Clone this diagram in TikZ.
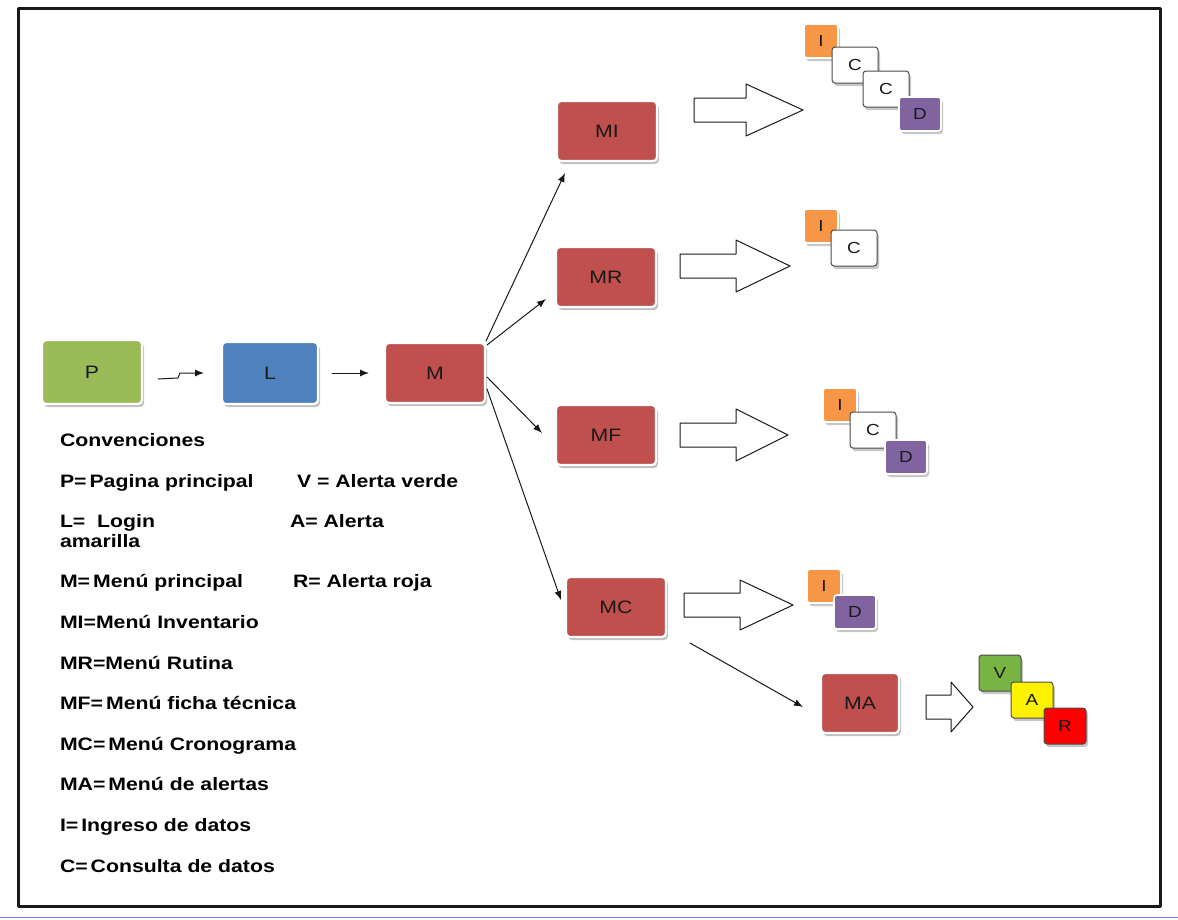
\documentclass[tikz,border=0pt]{standalone}
\usepackage{fontspec}
\setmainfont{Liberation Sans}[FakeStretch=1.18]
\usetikzlibrary{arrows.meta,shadows}
\definecolor{NavGreen}{HTML}{9BBB59}
\definecolor{NavBlue}{HTML}{4F81BD}
\definecolor{NavRed}{HTML}{C0504D}
\definecolor{NavOrange}{HTML}{F79646}
\definecolor{NavPurple}{HTML}{8064A2}
\definecolor{NavLime}{HTML}{77B443}
\definecolor{NavInk}{gray}{0.10}
\definecolor{NavEdge}{gray}{0.30}
\tikzset{
    nav/diagram/.style={
        x=1pt, y=-1pt,
        line cap=round,
        line join=round,
        every node/.style={inner sep=2pt, outer sep=0pt}
    },
    nav/box/.style={
        rounded corners=4pt, draw=white, line width=2.2pt,
        text=NavInk, font=\fontsize{18}{20}\selectfont,
        drop shadow={shadow xshift=2pt, shadow yshift=-3pt,
                     opacity=0.25, fill=black}
    },
    nav/menu/.style={nav/box, fill=NavRed,
        minimum width=100pt, minimum height=60pt},
    nav/tile/.style={
        rounded corners=3pt, draw=white, line width=1.6pt,
        text=NavInk, font=\fontsize{16}{18}\selectfont,
        minimum width=#1, minimum height=34pt,
        drop shadow={shadow xshift=2pt, shadow yshift=-3pt,
                     opacity=0.22, fill=black}
    },
    nav/tile/.default=36pt,
    nav/blank/.style={nav/tile=46pt, fill=white, draw=NavEdge,
        line width=1pt, minimum height=36pt},
    nav/alert/.style={nav/tile=42pt, draw=NavEdge, line width=1pt,
        minimum height=36pt},
    nav/link/.style={
        draw=NavInk, line width=1pt,
        -{Latex[length=9pt, width=7pt]}
    },
    nav/block/.style={draw=NavInk, fill=white, line width=1pt},
    nav/legend/.style={anchor=base west, inner sep=0pt,
        font=\bfseries\fontsize{18}{20}\selectfont, text=black}
}
\newcommand\navblock[6]{%
    \draw[nav/block] (#1,#4-#5) -- (#3,#4-#5) -- (#3,#4-#6) -- (#2,#4)
        -- (#3,#4+#6) -- (#3,#4+#5) -- (#1,#4+#5) -- cycle;}

\begin{document}
\begin{tikzpicture}[nav/diagram]
    \useasboundingbox (0,0) rectangle (1178,919);
    \fill[white] (0,0) rectangle (1178,919);
    \draw[line width=3pt, draw=NavInk] (18,8) rectangle (1160,906);
    \draw[line width=1pt, draw=blue!55] (0,917) -- (1178,917);

    \node[nav/box, fill=NavGreen, minimum width=100pt, minimum height=64pt]
        (P) at (92,372) {P};
    \node[nav/box, fill=NavBlue, minimum width=96pt, minimum height=62pt]
        (L) at (270,373) {L};
    \node[nav/menu] (M) at (435,373) {M};

    \node[nav/menu] (MI) at (607,131) {MI};
    \node[nav/menu] (MR) at (606,277) {MR};
    \node[nav/menu] (MF) at (606,435) {MF};
    \node[nav/menu] (MC) at (616,607) {MC};
    \node[nav/menu, minimum width=78pt, minimum height=60pt]
        (MA) at (860,703) {MA};

    \draw[nav/link] ([shift={(16,7)}]P.east) -- ++(20,-1) -- ++(2,-5)
        -- ([xshift=-18pt]L.west);
    \draw[nav/link] ([xshift=14pt]L.east) -- ([xshift=-16pt]M.west);
    \draw[nav/link] ([shift={(1,-2)}]M.north east)
        -- ([shift={(8,12)}]MI.south west);
    \draw[nav/link] ([shift={(2,2)}]M.north east)
        -- ([shift={(-10,-8)}]MR.south west);
    \draw[nav/link] ([shift={(2,4)}]M.east) -- ([shift={(-14,-2)}]MF.west);
    \draw[nav/link] ([shift={(2,-14)}]M.south east)
        -- ([shift={(-5,-7)}]MC.west);
    \draw[nav/link] ([shift={(24,6)}]MC.south east)
        -- ([shift={(-18,4)}]MA.west);

    \navblock{694}{803}{746}{110}{12}{26}
    \navblock{680}{790}{736}{266}{12}{26}
    \navblock{680}{788}{736}{435}{12}{26}
    \navblock{684}{793}{740}{605}{12}{25}
    \navblock{926}{973}{951}{707}{12}{25}

    \node[nav/tile=34pt, fill=NavOrange] (IMI) at (821,41) {I};
    \node[nav/blank] (CMIa) at (855,65) {C};
    \node[nav/blank] (CMIb) at (886,89) {C};
    \node[nav/tile=42pt, fill=NavPurple] (DMI) at (920,114) {D};

    \node[nav/tile=34pt, fill=NavOrange] (IMR) at (821,226) {I};
    \node[nav/blank] (CMR) at (854,248) {C};

    \node[nav/tile=34pt, fill=NavOrange] (IMF) at (840,405) {I};
    \node[nav/blank] (CMF) at (873,430) {C};
    \node[nav/tile=42pt, fill=NavPurple] (DMF) at (906,457) {D};

    \node[nav/tile=34pt, fill=NavOrange] (IMC) at (824,586) {I};
    \node[nav/tile=42pt, fill=NavPurple] (DMC) at (855,612) {D};

    \node[nav/alert, fill=NavLime] (V) at (1000,673) {V};
    \node[nav/alert, fill=yellow] (A) at (1032,700) {A};
    \node[nav/alert, fill=red] (R) at (1065,726) {R};

    \node[nav/legend] (conv) at (60,446) {Convenciones};
    \node[nav/legend] (lp) at (60,487) {P=\,Pagina principal};
    \node[nav/legend] (lv) at (297,487) {V = Alerta verde};
    \node[nav/legend] (ll) at (60,527) {L=~ Login};
    \node[nav/legend] (la) at (290,527) {A= Alerta};
    \node[nav/legend] (lam) at (60,547) {amarilla};
    \node[nav/legend] (lm) at (60,587) {M=\,Menú principal};
    \node[nav/legend] (lr) at (293,587) {R= Alerta roja};
    \node[nav/legend] (lmi) at (60,628) {MI=Menú Inventario};
    \node[nav/legend] (lmr) at (60,669) {MR=Menú Rutina};
    \node[nav/legend] (lmf) at (60,709) {MF=\,Menú ficha técnica};
    \node[nav/legend] (lmc) at (60,750) {MC=\,Menú Cronograma};
    \node[nav/legend] (lma) at (60,790) {MA=\,Menú de alertas};
    \node[nav/legend] (li) at (60,831) {I=\,Ingreso de datos};
    \node[nav/legend] (lc) at (60,872) {C=\,Consulta de datos};
\end{tikzpicture}
\end{document}
